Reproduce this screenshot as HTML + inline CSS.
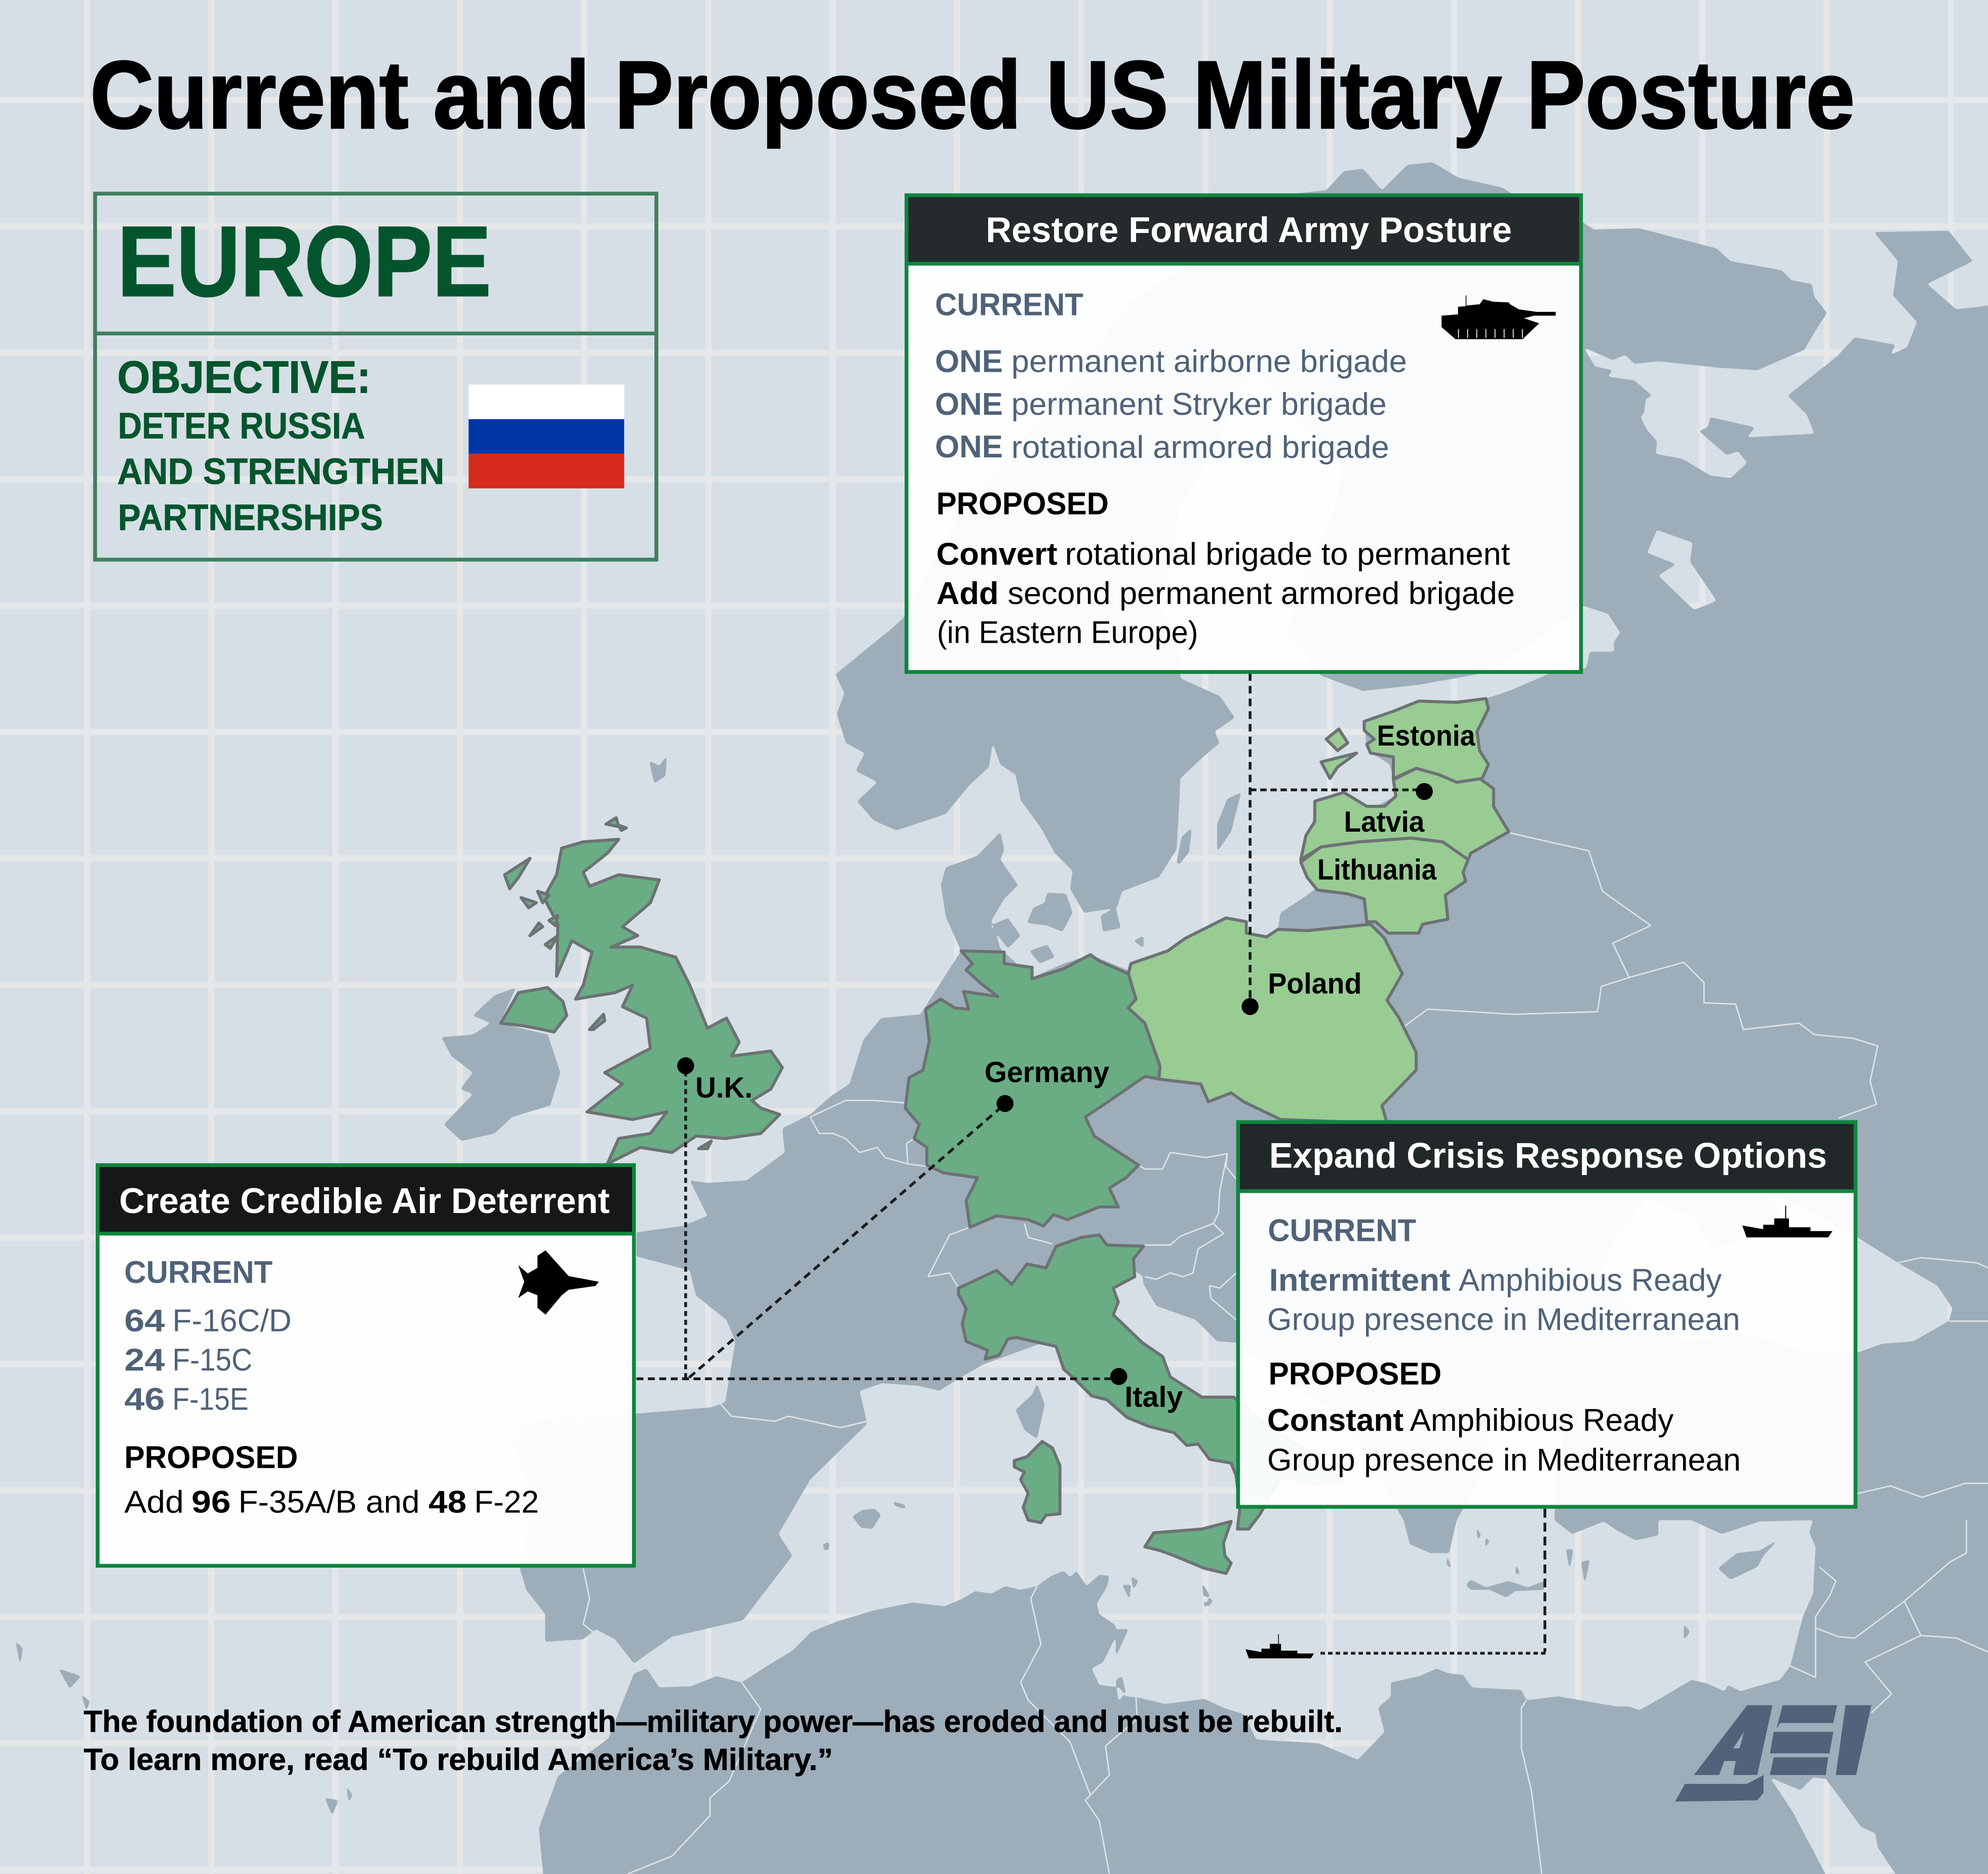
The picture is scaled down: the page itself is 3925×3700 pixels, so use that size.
<!DOCTYPE html>
<html lang="en">
<head>
<meta charset="utf-8">
<title>Current and Proposed US Military Posture</title>
<style>
html,body{margin:0;padding:0;background:#d6dfe5}
svg{display:block}
text{font-family:"Liberation Sans",Arial,sans-serif}
.b{font-weight:700}
.bl{fill:#4f6278}
.k{fill:#000}
.w{fill:#fff}
.g{fill:#04552d;font-weight:700}
.c{stroke:#6d7274;stroke-width:2.4;stroke-linejoin:round}
.de{fill:#6aad85}
.pl{fill:#98cc93}
.br{fill:none;stroke:#dce3e8;stroke-width:1.1;stroke-linejoin:round}
.d{fill:none;stroke:#1c1c1c;stroke-width:2.2}
</style>
</head>
<body>
<svg xmlns="http://www.w3.org/2000/svg" width="3925" height="3700" viewBox="0 0 1568 1478.1">
<defs>
<filter id="coast" filterUnits="userSpaceOnUse" x="-20" y="-20" width="1620" height="1530" color-interpolation-filters="sRGB">
<feGaussianBlur stdDeviation="1"/>
<feComponentTransfer><feFuncA type="linear" slope="7" intercept="-3"/></feComponentTransfer>
</filter>
</defs>
<rect width="1568" height="1479" fill="#d6dfe5"/>
<path fill="none" stroke="#e5e7e8" stroke-width="5" d="M68.7 0V1479M166.7 0V1479M264.7 0V1479M362.7 0V1479M460.7 0V1479M558.7 0V1479M656.7 0V1479M754.7 0V1479M852.7 0V1479M950.7 0V1479M1048.7 0V1479M1146.7 0V1479M1244.7 0V1479M1342.7 0V1479M1440.7 0V1479M1538.7 0V1479"/>
<path fill="none" stroke="#e5e7e8" stroke-width="5" d="M0 78.9H1568M0 178.6H1568M0 278.3H1568M0 378H1568M0 477.7H1568M0 577.4H1568M0 677.1H1568M0 776.8H1568M0 876.5H1568M0 976.2H1568M0 1075.9H1568M0 1175.6H1568M0 1275.3H1568M0 1375H1568M0 1474.7H1568"/>

<g opacity=".95" filter="url(#coast)">
<path fill="#9aacb8" fill-rule="evenodd" d="
M430,1495 L425,1442 440,1401 480,1371 490,1345 500,1320 510,1316 520,1331 545,1330 565,1322 585,1327 605,1314 625,1302 640,1287 660,1279 690,1270 720,1264 745,1267 759,1261 769,1255 782,1257 793,1251 805,1254 818,1251 829,1243 839,1239 844,1244 849,1239 857,1251 867,1242 875,1243 873,1252 865,1265 867,1273 880,1282 880,1291 870,1311 861,1316 867,1329 883,1331 888,1338 898,1339 919,1344 950,1340 965,1347 981,1352 991,1372 1040,1375 1071,1388 1092,1366 1087,1347 1097,1338 1097,1327 1120,1322 1133,1316 1143,1320 1154,1321 1161,1331 1200,1333 1204,1341 1229,1338 1275,1346 1285,1346 1293,1349 1314,1337 1334,1325 1347,1328 1360,1334 1363,1329 1373,1334 1386,1330 1404,1325 1412,1314 1422,1275 1430,1257 1432,1220 1427,1209 1430,1199 1388,1200 1358,1210 1334,1199 1308,1199 1308,1211 1290,1215 1275,1207 1265,1200 1240,1210 1226,1199 1228,1160 1235,1125 1210,1110 1175,1130 1165,1170 1149,1199 1143,1225 1128,1225 1112,1218 1107,1199 1090,1170 1060,1120 975,1059 960,1058 943,1041 912,1030 902,1013 901,1006 890,1000 820,1060 776,1076 755,1088 741,1097 724,1093 696,1091 678,1097 684,1123 639,1167 614,1210 625,1227 586,1278 530,1291 500,1312 485,1293 470,1285 460,1293 430,1295 430,1273 415,1254 410,1237 420,1180 404,1140 415,1120 502,1115 561,1110 572,1106 580,1058 573,1041 549,1022 544,1002 502,991 502,972 538,967 558,959 544,931 558,933 589,931 619,909 617,890 639,879 656,864 670,855 681,820 695,803 726,800 758,750 746,723 742,698 746,684 771,675 789,656 792,670 789,678 803,698 792,709 782,726 789,748 792,751 814,771 839,760 860,753 889,765 921,750 935,740 967,724 987,736 1003,740 1008,732 1010,720 1031,706 1039,700 1031,692 1026,678 1035,650 1038,630 1060,625 1081,638 1101,628 1099,614 1096,603 1078,591 1076,569 1120,554 1172,551 1190,545 1225,530 1251,527 1254,514 1273,514 1273,506 1278,499 1268,484 1249,478 1175,530 1120,540 1075,545 1042,533 1015,500 1030,450 1050,410 1060,370 1030,340 990,290 975,310 960,350 940,385 930,400 925,440 915,480 930,510 931,535 962,549 974,566 958,577 962,586 949,597 931,614 930,636 928,670 914,692 885,703 881,716 855,720 844,701 846,687 832,673 821,653 805,631 801,611 789,603 783,586 780,605 764,620 746,642 707,655 689,647 676,632 692,617 675,608 682,594 667,586 660,563 666,547 659,532 682,513 703,496 712,488 760,400 830,320 890,240 950,200 1000,155 1046,150 1060,135 1075,133 1090,150 1110,130 1130,128 1150,140 1185,148 1196,155 1215,155 1248,175 1257,181 1293,180 1354,196 1365,206 1405,213 1413,221 1429,224 1431,234 1441,247 1433,259 1423,276 1386,292 1356,290 1308,285 1289,287 1282,280 1272,284 1249,274 1258,289 1272,292 1268,297 1289,300 1303,312 1298,315 1297,325 1294,329 1299,339 1307,348 1306,358 1327,362 1349,375 1365,377 1378,365 1371,356 1362,359 1340,340 1347,337 1349,329 1384,337 1378,345 1431,342 1425,327 1410,312 1449,281 1463,266 1495,272 1491,280 1504,274 1512,254 1493,233 1497,206 1478,183 1537,182 1556,206 1520,224 1543,244 1585,239 L1585,1495 Z
M1307,418 L1335,428 1333,443 1354,474 1336,481 1308,454 1322,445 1299,436 Z
M1465,976 L1497,996 1528,1014 1540,1032 1537,1042 1509,1058 1484,1060 1465,1067 1420,1065 1370,1050 1330,1060 1290,1035 1262,1005 1275,975 1300,945 1335,960 1350,985 1385,975 1405,955 1380,930 Z
M1396,1402 L1414,1429 1446,1490 1503,1490 1481,1457 1479,1446 1468,1441 1440,1403 1430,1402 1420,1412 Z
M373,801 L390,785 407,779 394,807 432,816 442,846 434,872 404,881 390,894 364,900 350,887 373,863 363,859 373,846 356,833 348,818 373,816 387,807 Z
M818,1091 L824,1108 818,1135 808,1128 801,1112 814,1100 Z
M672,1196 L680,1191 690,1190 695,1195 688,1206 679,1205 Z M704,1184 L714,1187 714,1190 706,1188 Z M649,1218 L654,1216 654,1222 650,1223 Z
M1355,1237 L1370,1225 1388,1223 1403,1214 1391,1227 1386,1236 1365,1246 Z
M1156,1250 L1160,1246 1172,1252 1190,1247 1205,1252 1218,1247 1218,1254 1195,1255 1188,1260 1175,1254 1160,1254 Z
M1141,1226 L1144,1234 1145,1238 1141,1234 Z M1172,1212 L1175,1216 1171,1221 Z M1164,1204 L1168,1210 1166,1216 Z M1195,1241 L1199,1242 1196,1233 Z M1235,1222 L1241,1222 1238,1239 Z M1247,1232 L1254,1230 1250,1250 Z
M960,672 L971,656 979,625 968,630 960,650 Z
M928,680 L932,660 940,653 938,672 930,682 Z
M810,728 L815,716 824,712 826,704 841,705 846,720 838,735 826,730 Z M781,730 L795,724 805,738 795,748 Z M812,750 L826,745 832,755 820,760 Z M894,742 L902,738 902,748 Z
M868,722 L880,716 884,732 870,735 Z M892,1243 L898,1247 894,1254 Z M948,1258 L957,1262 953,1268 Z
M1328,1281 L1333,1287 1328,1294 Z M885,1250 L892,1250 891,1262 Z M948,1248 L954,1258 950,1270 Z M880,1285 L890,1285 880,1307 Z M880,1325 L885,1322 888,1335 882,1342 Z
M12,1294 L18,1300 16,1314 Z M46,1316 L64,1322 55,1332 Z M64,1336 L71,1342 68,1350 Z M256,1418 L267,1420 262,1432 Z M273,1408 L278,1416 275,1422 Z
M512,600 L520,604 526,596 525,612 516,618 Z"/>
</g>

<g>
<polyline class="br" points="1191,657 1253,671 1264,703 1302,730 1272,744 1285,771 1328,759 1344,775 1344,791 1369,792 1375,812 1419,807 1431,816 1462,819 1481,825 1475,853 1480,871 1450,882"/>
<polyline class="br" points="1107,810 1126,796 1194,800 1260,798 1263,778 1285,771"/>
<polyline class="br" points="568,1107 577,1117 611,1121 622,1117 663,1126 684,1121"/>
<polyline class="br" points="639,881 646,894 657,894 667,898 678,909 692,905 698,913 716,918 732,920"/>
<polyline class="br" points="639,881 667,868 690,868 715,870"/>
<polyline class="br" points="716,918 715,902 721,898"/>
<polyline class="br" points="460,1237 465,1261 460,1281 470,1289"/>
<polyline class="br" points="585,1327 600,1348 575,1405 560,1418 560,1432 530,1464 495,1478"/>
<polyline class="br" points="818,1251 813,1261 821,1297 805,1327 811,1341 844,1374 860,1416 856,1420 867,1436 875,1478"/>
<polyline class="br" points="896,1339 897,1356 872,1377 875,1400 860,1416"/>
<polyline class="br" points="1204,1341 1200,1347 1200,1379 1208,1413 1216,1478"/>
<polyline class="br" points="1432,1275 1432,1323 1412,1314"/>
<polyline class="br" points="1432,1284 1450,1291 1463,1292 1502,1263 1515,1290 1543,1292 1568,1303"/>
<polyline class="br" points="1515,1290 1471,1311 1492,1336 1476,1351"/>
<polyline class="br" points="1502,1263 1538,1232 1551,1225 1551,1199"/>
<polyline class="br" points="1435,1236 1448,1247 1443,1259 1432,1275"/>
<polyline class="br" points="1465,1178 1491,1172 1516,1181 1550,1170 1568,1170"/>
<polyline class="br" points="1497,996 1515,992 1559,996 1568,1000"/>
<polyline class="br" points="1537,1042 1568,1042"/>
<polyline class="br" points="898,919 903,922 917,922 923,909 951,913 968,910 967,920 975,930"/>
<polyline class="br" points="968,910 962,940 961,957 957,965 931,975 923,982 902,982"/>
<polyline class="br" points="957,965 965,973 945,985 941,1004 933,1007 923,1004 912,1009 903,1007"/>
<polyline class="br" points="765,968 749,974 732,1007 749,1004 756,1016"/>
<polyline class="br" points="808,965 811,976 830,981"/>
<polyline class="br" points="954,1014 962,1016 975,1004"/>
<polyline class="br" points="954,1014 955,1024 975,1041"/>
</g>

<g>
<path class="c de" d="M488,662 L460,664 443,669 439,690 429,708 440,729 439,770 451,742 467,751 460,777 454,788 485,783 499,777 491,794 510,803 513,827 505,831 477,846 491,855 463,877 499,883 526,877 513,894 488,898 479,918 505,905 530,909 549,896 572,898 600,894 615,879 600,874 593,868 608,859 617,842 608,829 577,833 583,822 573,803 558,811 544,777 533,755 505,747 482,747 503,738 491,731 513,712 520,694 488,690 465,699 460,688 479,673 Z"/>
<path class="c de" d="M395,807 L409,783 432,779 444,790 447,801 437,814 423,811 412,809 Z"/>
<path class="c de" stroke-width="1.8" d="M398,690 L418,677 409,692 402,701 Z M411,708 L423,712 417,716 Z M424,703 L433,706 428,712 Z M465,812 L476,800 477,805 468,812 Z M551,906 L561,900 558,906 Z M430,745 L440,738 434,748 Z M418,738 L425,728 428,731 Z M433,726 L440,722 438,730 Z M478,650 L486,645 488,652 Z M488,651 L494,653 490,655 Z"/>
<path class="c de" d="M758,750 L792,751 792,760 814,763 814,772 839,764 860,753 867,758 890,768 896,788 890,795 903,807 915,841 914,851 903,849 874,869 856,881 863,896 898,919 888,929 875,937 882,952 867,952 842,962 831,958 823,967 811,962 786,959 765,968 762,947 771,929 744,925 731,919 731,905 721,898 725,887 714,874 717,850 728,844 733,821 730,796 742,788 753,795 764,796 760,782 787,786 774,776 762,765 767,760 Z"/>
<path class="c pl" d="M890,768 L892,760 921,750 935,740 967,724 983,727 983,736 999,739 1008,733 1031,734 1081,729 1092,740 1106,768 1094,789 1103,802 1117,830 1117,844 1090,872 1094,886 1010,883 981,869 971,862 953,869 947,855 921,852 914,851 915,841 903,807 890,795 896,788 Z"/>
<path class="c pl" d="M1026,680 L1042,668 1072,664 1113,661 1138,664 1158,678 1154,688 1156,695 1140,706 1142,725 1122,729 1119,736 1095,736 1085,727 1078,727 1076,709 1063,705 1039,702 1031,692 Z"/>
<path class="c pl" d="M1026,678 L1030,659 1037,648 1037,632 1060,625 1078,636 1092,636 1101,628 1099,615 1117,606 1135,611 1149,617 1167,614 1178,622 1178,636 1190,656 1160,673 1158,678 1138,664 1113,661 1072,664 1042,668 Z"/>
<path class="c pl" d="M1076,569 L1099,561 1119,553 1149,554 1172,551 1174,559 1165,577 1167,592 1174,603 1169,614 1149,617 1135,611 1117,606 1099,614 1099,597 1081,594 1078,587 1084,583 1076,576 Z"/>
<path class="c pl" stroke-width="1.8" d="M1042,601 L1070,594 1055,605 1049,614 Z M1046,583 L1056,575 1063,586 1055,592 Z"/>
<path class="c de" d="M756,1016 L786,1002 798,1013 810,997 825,1000 833,983 853,976 867,974 873,982 902,983 894,993 895,1007 878,1016 882,1027 878,1037 901,1059 917,1070 923,1086 948,1102 973,1102 1000,1125 1040,1150 1060,1170 1040,1170 1010,1165 994,1194 985,1206 976,1206 978,1189 975,1164 971,1154 954,1151 945,1139 936,1140 926,1130 906,1125 889,1118 873,1104 861,1101 847,1087 839,1080 833,1062 802,1055 795,1056 788,1069 777,1072 779,1065 762,1058 759,1044 762,1032 756,1021 Z"/>
<path class="c de" d="M800,1152 L810,1149 822,1137 830,1142 836,1156 836,1194 825,1195 821,1201 811,1199 807,1189 811,1178 805,1167 808,1161 800,1157 Z"/>
<path class="c de" d="M903,1220 L910,1209 923,1208 948,1206 971,1200 965,1217 966,1227 971,1233 967,1241 950,1237 926,1227 915,1223 Z"/>
</g>

<g>
<path class="d" stroke-dasharray="6 4" d="M986,531V790"/>
<path class="d" stroke-dasharray="5 3" d="M986,623H1118"/>
<path class="d" stroke-dasharray="4 3" d="M540.8,845V1087.5"/>
<path class="d" stroke-dasharray="5.5 3.5" d="M502,1087.5H876"/>
<path class="d" stroke-dasharray="6 4" d="M790,873L543,1087"/>
<path class="d" stroke-dasharray="7 4" d="M1218.5,1190V1303"/>
<path class="d" stroke-dasharray="3.5 2.5" d="M1219,1304H1040"/>
</g>
<g fill="#000">
<circle cx="540.8" cy="840.6" r="6.7"/>
<circle cx="792.7" cy="870.4" r="6.7"/>
<circle cx="986" cy="793.9" r="6.7"/>
<circle cx="1123.4" cy="624.3" r="6.7"/>
<circle cx="882.4" cy="1085.7" r="6.7"/>
</g>

<g font-size="23" class="b">
<text x="1086" y="588" textLength="77.5" lengthAdjust="spacingAndGlyphs" class="b k">Estonia</text>
<text x="1060" y="656" textLength="63.5" lengthAdjust="spacingAndGlyphs" class="b k">Latvia</text>
<text x="1039" y="693.8" textLength="94" lengthAdjust="spacingAndGlyphs" class="b k">Lithuania</text>
<text x="1000" y="783.5" textLength="74" lengthAdjust="spacingAndGlyphs" class="b k">Poland</text>
<text x="776.5" y="853.6" textLength="98.5" lengthAdjust="spacingAndGlyphs" class="b k">Germany</text>
<text x="548.5" y="865.7" textLength="45" lengthAdjust="spacingAndGlyphs" class="b k">U.K.</text>
<text x="887" y="1109.5" textLength="46" lengthAdjust="spacingAndGlyphs" class="b k">Italy</text>
</g>

<text x="71" y="101" font-size="76" textLength="1392" lengthAdjust="spacingAndGlyphs" class="b k" stroke="#000" stroke-width="1.1">Current and Proposed US Military Posture</text>

<g>
<rect x="75" y="152.7" width="442.7" height="288.7" fill="none" stroke="#3f7f5f" stroke-width="3"/>
<path d="M75,263H518" stroke="#3f7f5f" stroke-width="3" fill="none"/>
<text x="92.5" y="233.4" font-size="79" textLength="295" lengthAdjust="spacingAndGlyphs" class="g" stroke="#04552d" stroke-width=".9">EUROPE</text>
<text x="92.5" y="309.8" font-size="36" textLength="200" lengthAdjust="spacingAndGlyphs" class="g" stroke="#04552d" stroke-width=".4">OBJECTIVE:</text>
<text x="93" y="345.8" font-size="29" textLength="195" lengthAdjust="spacingAndGlyphs" class="g" stroke="#04552d" stroke-width=".3">DETER RUSSIA</text>
<text x="92.5" y="381.8" font-size="29" textLength="258" lengthAdjust="spacingAndGlyphs" class="g" stroke="#04552d" stroke-width=".3">AND STRENGTHEN</text>
<text x="93" y="418" font-size="29" textLength="209" lengthAdjust="spacingAndGlyphs" class="g" stroke="#04552d" stroke-width=".3">PARTNERSHIPS</text>
<g>
<rect x="369.6" y="303.3" width="122.7" height="27.3" fill="#fff"/>
<rect x="369.6" y="330.6" width="122.7" height="27.3" fill="#0035a5"/>
<rect x="369.6" y="357.9" width="122.7" height="27.3" fill="#d72b1e"/>
</g>
</g>

<g>
<rect x="715" y="154" width="532" height="376" fill="#fff" fill-opacity=".95"/>
<rect x="715" y="154" width="532" height="54" fill="#1e2326" fill-opacity=".97"/>
<rect x="715" y="154" width="532" height="376" fill="none" stroke="#0f853e" stroke-width="3"/>
<path d="M715,208H1247" stroke="#0f853e" stroke-width="3"/>
<text x="777.5" y="191" font-size="28" textLength="415" lengthAdjust="spacingAndGlyphs" class="b w">Restore Forward Army Posture</text>
<text x="737.5" y="248.7" font-size="25" textLength="117" lengthAdjust="spacingAndGlyphs" class="b bl">CURRENT</text>
<text x="737.5" y="293.5" font-size="25" textLength="53.5" lengthAdjust="spacingAndGlyphs" class="b bl">ONE</text>
<text x="797.7" y="293.5" font-size="25" textLength="312" lengthAdjust="spacingAndGlyphs" class="bl">permanent airborne brigade</text>
<text x="737.5" y="327.2" font-size="25" textLength="53.5" lengthAdjust="spacingAndGlyphs" class="b bl">ONE</text>
<text x="797.7" y="327.2" font-size="25" textLength="296" lengthAdjust="spacingAndGlyphs" class="bl">permanent Stryker brigade</text>
<text x="737.5" y="360.8" font-size="25" textLength="53.5" lengthAdjust="spacingAndGlyphs" class="b bl">ONE</text>
<text x="797.7" y="361.2" font-size="25" textLength="298" lengthAdjust="spacingAndGlyphs" class="bl">rotational armored brigade</text>
<text x="738.5" y="405.7" font-size="25" textLength="136" lengthAdjust="spacingAndGlyphs" class="b k">PROPOSED</text>
<text x="738.5" y="445.5" font-size="25" textLength="95.5" lengthAdjust="spacingAndGlyphs" class="b k">Convert</text>
<text x="840" y="445.5" font-size="25" textLength="351" lengthAdjust="spacingAndGlyphs" class="k">rotational brigade to permanent</text>
<text x="738.5" y="476.3" font-size="25" textLength="49.2" lengthAdjust="spacingAndGlyphs" class="b k">Add</text>
<text x="794.8" y="476.3" font-size="25" textLength="400" lengthAdjust="spacingAndGlyphs" class="k">second permanent armored brigade</text>
<text x="739" y="507.1" font-size="25" textLength="206" lengthAdjust="spacingAndGlyphs" class="k">(in Eastern Europe)</text>
<g>
<path fill="#000" d="M1137,249 L1150,248 1150,242 1156,241.5 1156,233 1156.6,233 1156.6,241 1167,240 1170,236 1178,238 1190,238.5 1191,240 1198,244 1212,246 1227,246 1227,249 1210,249 1202,251 1214,255 1201,267.5 1148,267.5 1137,258 Z"/>
<path d="M1150,263H1202" stroke="#f6f8f9" stroke-width="7" stroke-dasharray=".7 6.5" fill="none"/>
</g>
</g>

<g>
<rect x="77" y="919" width="423" height="316" fill="#fff" fill-opacity=".96"/>
<rect x="77" y="919" width="423" height="54" fill="#161718"/>
<rect x="77" y="919" width="423" height="316" fill="none" stroke="#0f853e" stroke-width="3"/>
<path d="M77,973H500" stroke="#0f853e" stroke-width="3"/>
<text x="94" y="956.7" font-size="28" textLength="387" lengthAdjust="spacingAndGlyphs" class="b w">Create Credible Air Deterrent</text>
<text x="98" y="1012" font-size="25" textLength="117" lengthAdjust="spacingAndGlyphs" class="b bl">CURRENT</text>
<text x="98" y="1050" font-size="25" textLength="32" lengthAdjust="spacingAndGlyphs" class="b bl">64</text>
<text x="136" y="1050" font-size="25" textLength="94" lengthAdjust="spacingAndGlyphs" class="bl">F-16C/D</text>
<text x="98" y="1081" font-size="25" textLength="32" lengthAdjust="spacingAndGlyphs" class="b bl">24</text>
<text x="136" y="1081" font-size="25" textLength="63" lengthAdjust="spacingAndGlyphs" class="bl">F-15C</text>
<text x="98" y="1112" font-size="25" textLength="32" lengthAdjust="spacingAndGlyphs" class="b bl">46</text>
<text x="136" y="1112" font-size="25" textLength="60" lengthAdjust="spacingAndGlyphs" class="bl">F-15E</text>
<text x="98" y="1158" font-size="25" textLength="137" lengthAdjust="spacingAndGlyphs" class="b k">PROPOSED</text>
<text x="98" y="1193" font-size="25" textLength="47" lengthAdjust="spacingAndGlyphs" class="k">Add</text>
<text x="151" y="1193" font-size="25" textLength="31" lengthAdjust="spacingAndGlyphs" class="b k">96</text>
<text x="188" y="1193" font-size="25" textLength="143" lengthAdjust="spacingAndGlyphs" class="k">F-35A/B and</text>
<text x="338" y="1193" font-size="25" textLength="30" lengthAdjust="spacingAndGlyphs" class="b k">48</text>
<text x="374" y="1193" font-size="25" textLength="51" lengthAdjust="spacingAndGlyphs" class="k">F-22</text>
<path fill="#000" d="M472.4,1011 L448.5,1006.5 430.3,986.2 423.9,990.5 423.9,1000 416.3,1004.4 408.7,997.9 413.5,1011 408.7,1023.8 416.3,1018.6 423.9,1021.7 423.9,1031.6 430.3,1036.9 443,1021.7 448.5,1017.3 469.6,1014.3 Z"/>
</g>

<g>
<rect x="976.5" y="885" width="487" height="303.5" fill="#fff" fill-opacity=".95"/>
<rect x="976.5" y="885" width="487" height="54.5" fill="#1e2326" fill-opacity=".98"/>
<rect x="976.5" y="885" width="487" height="303.5" fill="none" stroke="#0f853e" stroke-width="3"/>
<path d="M976.5,939.5H1463.5" stroke="#0f853e" stroke-width="3"/>
<text x="1001" y="921" font-size="28" textLength="440" lengthAdjust="spacingAndGlyphs" class="b w">Expand Crisis Response Options</text>
<text x="1000" y="979" font-size="25" textLength="117" lengthAdjust="spacingAndGlyphs" class="b bl">CURRENT</text>
<text x="1001" y="1018" font-size="25" textLength="143" lengthAdjust="spacingAndGlyphs" class="b bl">Intermittent</text>
<text x="1150.5" y="1018" font-size="25" textLength="207.5" lengthAdjust="spacingAndGlyphs" class="bl">Amphibious Ready</text>
<text x="999.5" y="1049" font-size="25" textLength="373" lengthAdjust="spacingAndGlyphs" class="bl">Group presence in Mediterranean</text>
<text x="1000.5" y="1092" font-size="25" textLength="136.5" lengthAdjust="spacingAndGlyphs" class="b k">PROPOSED</text>
<text x="999.5" y="1128.6" font-size="25" textLength="107.5" lengthAdjust="spacingAndGlyphs" class="b k">Constant</text>
<text x="1112" y="1128.6" font-size="25" textLength="208" lengthAdjust="spacingAndGlyphs" class="k">Amphibious Ready</text>
<text x="999.5" y="1160" font-size="25" textLength="373.5" lengthAdjust="spacingAndGlyphs" class="k">Group presence in Mediterranean</text>
<path fill="#000" d="M1374.2,966.6 L1377.6,976 1442,976 1445.3,971 1428,971 1428,968 1411,968 1411,961 1408.8,961 1408.8,951 1408,951 1408,961 1399.4,961 1399.4,966 1390.7,966 1390.7,969.5 Z"/>
</g>
<path fill="#000" transform="translate(982.4,1289) scale(.76) translate(-1374.2,-951)" d="M1374.2,966.6 L1377.6,976 1442,976 1445.3,971 1428,971 1428,968 1411,968 1411,961 1408.8,961 1408.8,951 1408,951 1408,961 1399.4,961 1399.4,966 1390.7,966 1390.7,969.5 Z"/>

<g>
<text x="66" y="1366" font-size="24" textLength="993" lengthAdjust="spacingAndGlyphs" class="b k" stroke="#000" stroke-width=".25">The foundation of American strength—military power—has eroded and must be rebuilt.</text>
<text x="66" y="1396" font-size="24" textLength="591" lengthAdjust="spacingAndGlyphs" class="b k" stroke="#000" stroke-width=".25">To learn more, read “To rebuild America’s Military.”</text>
</g>

<path fill="#50637a" fill-rule="evenodd" d="M1378,1345 L1398,1345 1386,1400 1367,1400 1369,1389 1360,1389 1356,1400 1336,1400 Z M1375.6,1366 L1367,1379 1372,1379 Z M1406,1345 L1449,1345 1446,1359 1404,1359 1401,1364 Z M1399,1366 L1446,1366 1443,1383 1396,1383 Z M1399,1386 L1442,1386 1440,1400 1396,1400 Z M1391,1400 L1391,1414 1386,1420 1321,1421 1319,1425 1329,1407 1378,1407 Z M1455.6,1345 L1476,1345 1464,1400 1448,1400 Z"/>
</svg>
</body>
</html>
